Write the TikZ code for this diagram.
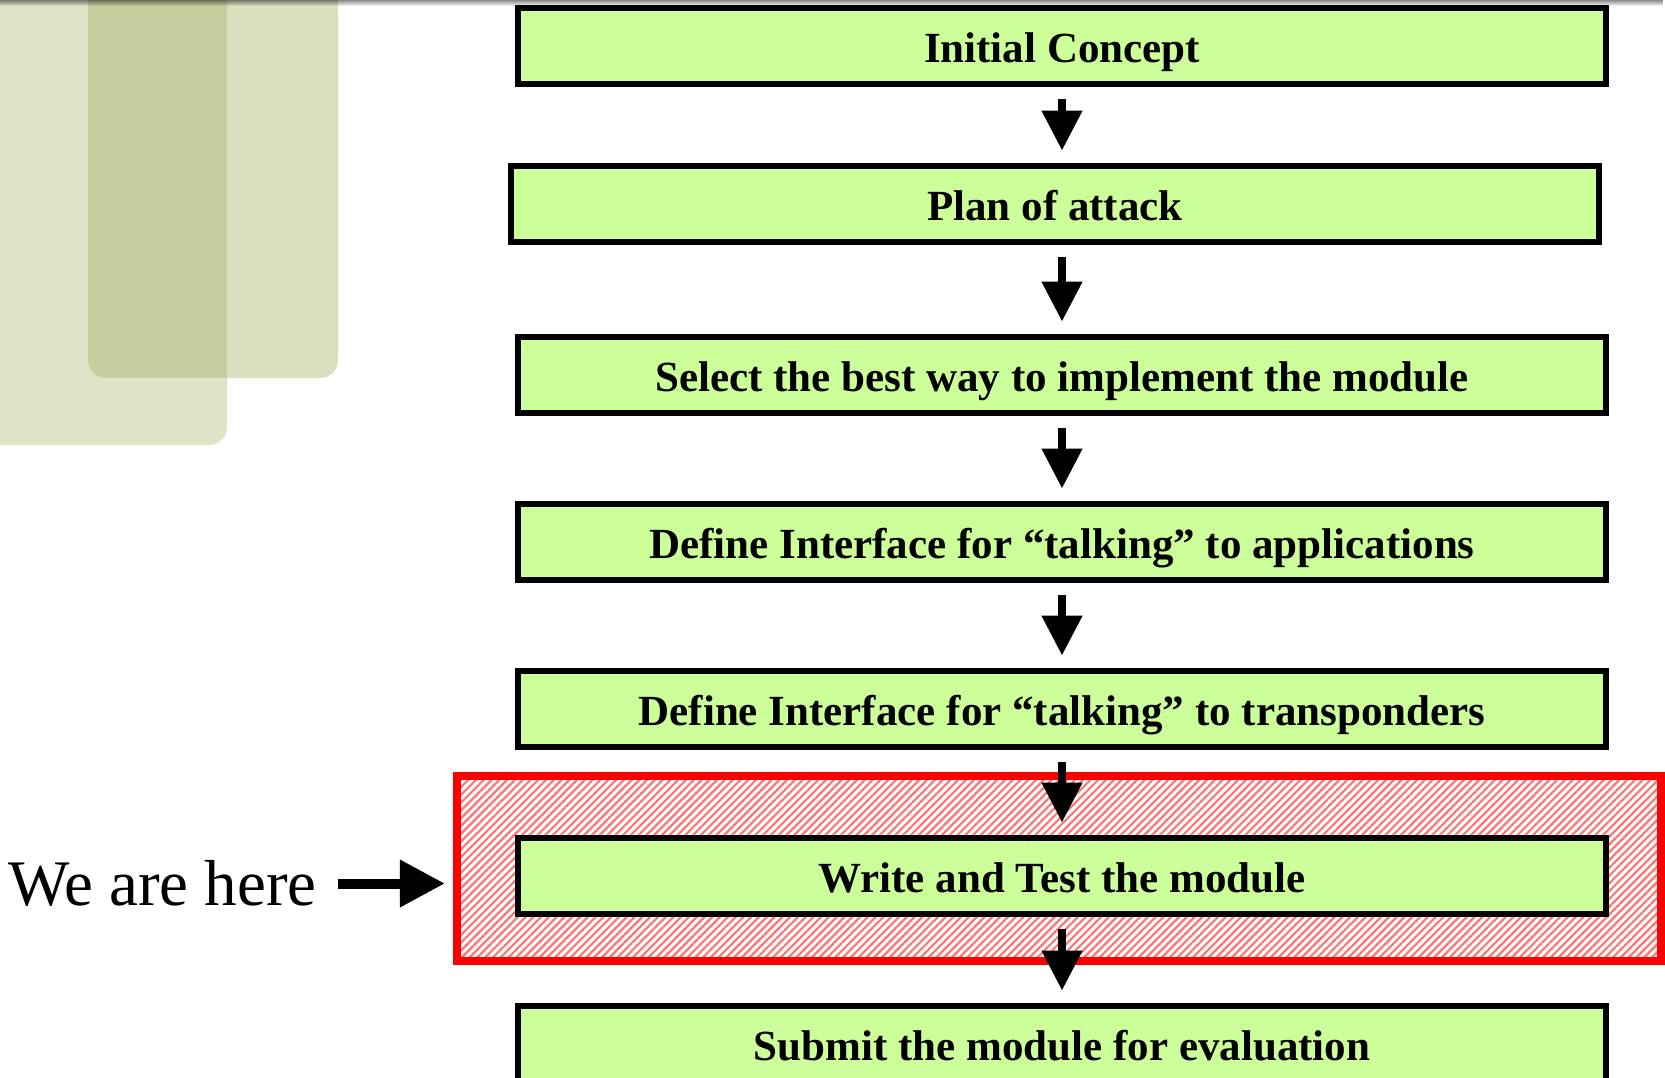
\documentclass[tikz,border=0pt]{standalone}
\usepackage{fontspec}
\setmainfont{Liberation Serif}
\usepackage{tikz}
\usetikzlibrary{arrows.meta, positioning, fit, backgrounds, calc, patterns.meta, fadings}
\definecolor{cStep}{HTML}{CCFF99}
\definecolor{cLeaf}{HTML}{9FA855}
\definecolor{cMark}{HTML}{FF0000}
\tikzfading[name=fade down, top color=transparent!0, bottom color=transparent!100]

\begin{document}
\begin{tikzpicture}[
  x=1pt, y=1pt,
  node distance = 85pt,
  stepbox/.style = {rectangle, draw, line width=6pt, fill=cStep,
                    minimum width=1088pt, minimum height=76pt, inner sep=0pt,
                    text height=36pt, text depth=2pt,
                    font=\fontsize{43}{50}\selectfont\bfseries},
  flow/.style    = {line width=8pt, -{Triangle[length=40pt, width=39pt]},
                    shorten <=12pt, shorten >=12pt},
  pointer/.style = {line width=10pt, -{Triangle[length=45pt, width=45pt]}},
  focus/.style   = {rectangle, draw=cMark, line width=8pt, inner sep=0pt,
                    pattern={Lines[angle=45, distance=5.5pt, line width=2.2pt]},
                    pattern color=cMark!55},
  leaf/.style    = {fill=cLeaf, rounded corners=18pt}]

\useasboundingbox (0,0) rectangle (1665,-1077);
\clip (0,0) rectangle (1665,-1077);

% ---- backdrop: two translucent tabs in the corner ---------------------------
\fill[leaf, fill opacity=0.32] (-30,30) rectangle (227,-445);
\fill[leaf, fill opacity=0.37] (88,30) rectangle (338,-378);

% ---- the chain of steps -----------------------------------------------------
\node[stepbox] (concept) at (1062,-45.5) {Initial Concept};
\node[stepbox, below=76pt of concept, xshift=-7pt] (plan) {Plan of attack};
\node[stepbox, below=89pt of plan, xshift=7pt] (select)
  {Select the best way to implement the module};
\node[stepbox, below=of select] (apps) {Define Interface for “talking” to applications};
\node[stepbox, below=of apps] (transp) {Define Interface for “talking” to transponders};
\node[stepbox, below=of transp] (write) {Write and Test the module};
\node[stepbox, below=86pt of write] (submit) {Submit the module for evaluation};

% chain arrows, all on one vertical line
\foreach \a/\b in {concept/plan, plan/select, select/apps, apps/transp,
                   transp/write, write/submit}
  \draw[flow] (\a.south -| concept) -- (\b.north -| concept);

% ---- current step, hatched frame behind it ---------------------------------
\begin{scope}[on background layer]
  \node[focus, fit={($(write.north west)+(-58,59)$) ($(write.south east)+(52,-44)$)}]
    (focus) {};
\end{scope}

\node[font=\fontsize{65}{72}\selectfont, inner sep=0pt,
      left=139pt of focus.west, yshift=-15.5pt] (here) {We are here};
\draw[pointer, shorten <=21pt, shorten >=11pt] (here.east) -- (focus.west |- here.east);

% thin shadow along the top edge
\fill[black, opacity=0.45, path fading=fade down] (0,0) rectangle (1665,-6);

\end{tikzpicture}
\end{document}
